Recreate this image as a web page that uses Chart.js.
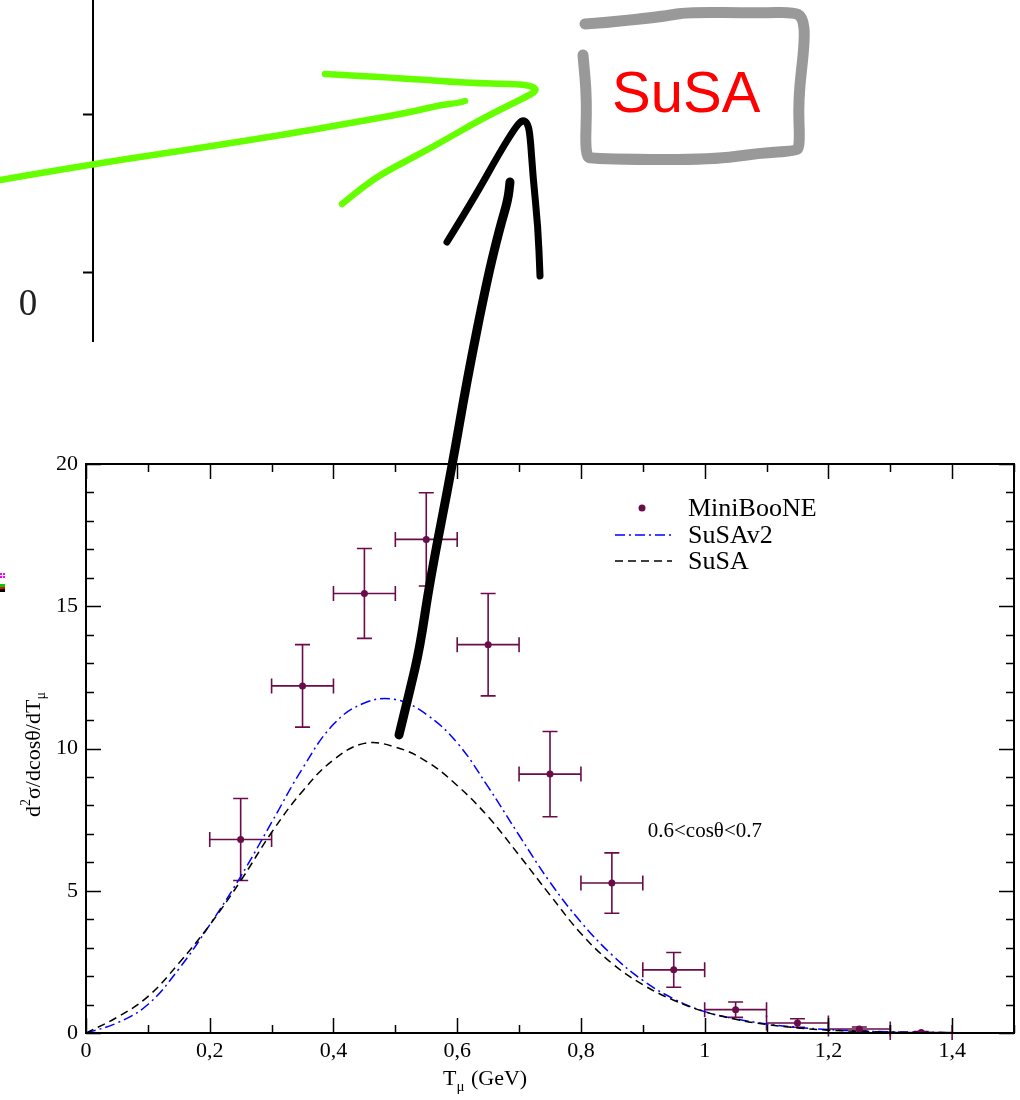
<!DOCTYPE html>
<html lang="en">
<head>
<meta charset="UTF-8">
<title>MiniBooNE vs SuSA, 0.6&lt;cosθ&lt;0.7</title>
<script src="https://cdn.jsdelivr.net/npm/chart.js"></script>
<style>
  html, body { margin: 0; padding: 0; background: #fff; }
  #wrap { position: relative; width: 1020px; height: 1100px; }
</style>
</head>
<body>
<div id="wrap"><canvas id="xsChart"></canvas></div>
<script>
// MiniBooNE points (bin centre in GeV, value, vertical error, half bin width)
const binCentres   = [0.25, 0.35, 0.45, 0.55, 0.65, 0.75, 0.85, 0.95, 1.05, 1.15, 1.25, 1.35];
const minibooneVal = [6.8, 12.2, 15.45, 17.35, 13.65, 9.1, 5.27, 2.22, 0.82, 0.35, 0.14, 0.02];
const minibooneErr = [1.44, 1.45, 1.58, 1.64, 1.8, 1.5, 1.06, 0.61, 0.27, 0.15, 0.07, 0.03];
const binHalfWidth = [0.05, 0.05, 0.05, 0.05, 0.05, 0.05, 0.05, 0.05, 0.05, 0.05, 0.05, 0.05];

// theory curves
const curveT = [0, 0.05, 0.1, 0.15, 0.2, 0.25, 0.3, 0.35, 0.4, 0.45, 0.5, 0.55, 0.6, 0.65, 0.7, 0.75,
                0.8, 0.85, 0.9, 0.95, 1.0, 1.05, 1.1, 1.15, 1.2, 1.25, 1.3, 1.35, 1.4, 1.45, 1.5];
const susaV2 = [0, 0.35, 1.0, 2.25, 3.8, 5.5, 7.4, 9.3, 10.85, 11.6, 11.72, 11.2, 10.2, 8.65, 6.95, 5.3,
                3.9, 2.75, 1.85, 1.2, 0.75, 0.5, 0.32, 0.2, 0.12, 0.07, 0.04, 0.02, 0.01, 0.005, 0];
const susa   = [0, 0.55, 1.28, 2.45, 3.8, 5.35, 7.05, 8.5, 9.6, 10.18, 10.05, 9.55, 8.7, 7.6, 6.25, 4.85,
                3.5, 2.45, 1.7, 1.15, 0.75, 0.48, 0.3, 0.18, 0.1, 0.06, 0.03, 0.02, 0.01, 0.005, 0];

const xRange = [0, 1.5];
const yRange = [0, 20];
const xMajor = 0.2, xMinor = 0.1;
const yMajor = 5, yMinor = 1;
const cutLabel = '0.6<cosθ<0.7';

const SERIF = "'Liberation Serif', 'DejaVu Serif', serif";
const DATA_COLOR = '#6a0c4a';

function pts(xs, ys) { return xs.map((x, i) => ({ x: x, y: ys[i] })); }

// hand-drawn strokes on top of the figure (pixel coords)
function handStroke(ctx, p, color, w) {
  ctx.save();
  ctx.strokeStyle = color; ctx.lineWidth = w;
  ctx.lineCap = 'round'; ctx.lineJoin = 'round';
  ctx.beginPath();
  ctx.moveTo(p[0][0], p[0][1]);
  for (let i = 1; i < p.length - 1; i++) {
    const mx = (p[i][0] + p[i + 1][0]) / 2, my = (p[i][1] + p[i + 1][1]) / 2;
    ctx.quadraticCurveTo(p[i][0], p[i][1], mx, my);
  }
  ctx.lineTo(p[p.length - 1][0], p[p.length - 1][1]);
  ctx.stroke();
  ctx.restore();
}

const errorBars = {
  id: 'errorBars',
  beforeDatasetsDraw(chart) {
    const ctx = chart.ctx, xs = chart.scales.x, ys = chart.scales.y;
    ctx.save();
    ctx.strokeStyle = DATA_COLOR; ctx.lineWidth = 1.6;
    binCentres.forEach((t, i) => {
      const cx = xs.getPixelForValue(t), cy = ys.getPixelForValue(minibooneVal[i]);
      const x0 = xs.getPixelForValue(t - binHalfWidth[i]), x1 = xs.getPixelForValue(t + binHalfWidth[i]);
      const y0 = ys.getPixelForValue(minibooneVal[i] - minibooneErr[i]);
      const y1 = ys.getPixelForValue(minibooneVal[i] + minibooneErr[i]);
      const c = 7.5;
      ctx.beginPath();
      ctx.moveTo(x0, cy); ctx.lineTo(x1, cy);
      ctx.moveTo(x0, cy - c); ctx.lineTo(x0, cy + c);
      ctx.moveTo(x1, cy - c); ctx.lineTo(x1, cy + c);
      ctx.moveTo(cx, y0); ctx.lineTo(cx, y1);
      ctx.moveTo(cx - c, y0); ctx.lineTo(cx + c, y0);
      ctx.moveTo(cx - c, y1); ctx.lineTo(cx + c, y1);
      ctx.stroke();
    });
    ctx.restore();
  }
};

const graceFrame = {
  id: 'graceFrame',
  afterDraw(chart) {
    const ctx = chart.ctx, a = chart.chartArea, xs = chart.scales.x, ys = chart.scales.y;
    ctx.save();
    // frame
    ctx.strokeStyle = '#000'; ctx.lineWidth = 2;
    ctx.strokeRect(a.left, a.top, a.right - a.left, a.bottom - a.top);
    // inward ticks on all four sides
    ctx.lineWidth = 1.5;
    ctx.beginPath();
    const nx = Math.round((xRange[1] - xRange[0]) / xMinor);
    for (let i = 0; i <= nx; i++) {
      const v = xRange[0] + i * xMinor;
      const major = Math.abs(v / xMajor - Math.round(v / xMajor)) < 1e-6;
      const len = major ? 15 : 8, px = Math.round(xs.getPixelForValue(v)) + 0.5;
      ctx.moveTo(px, a.bottom); ctx.lineTo(px, a.bottom - len);
      ctx.moveTo(px, a.top); ctx.lineTo(px, a.top + len);
    }
    const ny = Math.round((yRange[1] - yRange[0]) / yMinor);
    for (let i = 0; i <= ny; i++) {
      const v = yRange[0] + i * yMinor;
      const len = (v % yMajor === 0) ? 15 : 8, py = Math.round(ys.getPixelForValue(v)) + 0.5;
      ctx.moveTo(a.left, py); ctx.lineTo(a.left + len, py);
      ctx.moveTo(a.right, py); ctx.lineTo(a.right - len, py);
    }
    ctx.stroke();

    // legend
    ctx.fillStyle = '#000';
    ctx.font = '26px ' + SERIF;
    ctx.textBaseline = 'middle'; ctx.textAlign = 'left';
    const ds = chart.data.datasets;
    const rows = [508, 535, 561];
    ctx.fillStyle = ds[0].backgroundColor;
    ctx.beginPath(); ctx.arc(642, rows[0], 3.5, 0, Math.PI * 2); ctx.fill();
    [1, 2].forEach((k, j) => {
      ctx.strokeStyle = ds[k].borderColor; ctx.lineWidth = ds[k].borderWidth;
      ctx.setLineDash(ds[k].borderDash);
      ctx.beginPath(); ctx.moveTo(615, rows[j + 1]); ctx.lineTo(672, rows[j + 1]); ctx.stroke();
    });
    ctx.setLineDash([]);
    ctx.fillStyle = '#000';
    ds.forEach((d, k) => ctx.fillText(d.label, 688, rows[k] + 1));

    // cut label
    ctx.font = '21px ' + SERIF;
    ctx.textBaseline = 'alphabetic';
    ctx.fillText(cutLabel, xs.getPixelForValue(0.908), ys.getPixelForValue(6.9));

    // x title T_mu (GeV)
    ctx.font = '22px ' + SERIF;
    let x = 443;
    ctx.fillText('T', x, 1085); x += ctx.measureText('T').width;
    ctx.font = '15px ' + SERIF;
    ctx.fillText('μ', x, 1091); x += ctx.measureText('μ').width + 1;
    ctx.font = '22px ' + SERIF;
    ctx.fillText(' (GeV)', x, 1085);

    // y title d^2 sigma / dcos theta / dT_mu
    ctx.translate(40, 817); ctx.rotate(-Math.PI / 2);
    x = 0;
    ctx.fillText('d', x, 0); x += ctx.measureText('d').width;
    ctx.font = '14px ' + SERIF;
    ctx.fillText('2', x, -10); x += ctx.measureText('2').width;
    ctx.font = '22px ' + SERIF;
    ctx.fillText('σ/dcosθ/dT', x, 0); x += ctx.measureText('σ/dcosθ/dT').width;
    ctx.font = '14px ' + SERIF;
    ctx.fillText('μ', x, 5);
    ctx.restore();

    // upper (cut-off) panel: left axis with ticks and its "0" label
    ctx.save();
    ctx.strokeStyle = '#000'; ctx.lineWidth = 2;
    ctx.beginPath();
    ctx.moveTo(93, 0); ctx.lineTo(93, 342);
    ctx.moveTo(83, 114.5); ctx.lineTo(93, 114.5);
    ctx.moveTo(83, 272.5); ctx.lineTo(93, 272.5);
    ctx.stroke();
    ctx.fillStyle = '#222';
    ctx.font = '37px ' + SERIF;
    ctx.textAlign = 'center'; ctx.textBaseline = 'alphabetic';
    ctx.fillText('0', 28, 315);
    // cut-off legend remnants at the left edge
    ctx.fillStyle = '#ff00ff';
    ctx.fillRect(0, 573, 2, 2); ctx.fillRect(3, 573, 2, 2); ctx.fillRect(0, 576, 2, 2); ctx.fillRect(3, 576, 2, 2);
    ctx.fillStyle = '#00cc00'; ctx.fillRect(0, 584, 5, 3);
    ctx.fillStyle = '#ff0000'; ctx.fillRect(0, 587, 5, 2);
    ctx.fillStyle = '#000'; ctx.fillRect(0, 589, 5, 3);
    ctx.restore();

    // annotations
    handStroke(ctx, [[0, 180], [93, 164], [200, 148], [300, 132], [350, 123], [407, 113], [440, 105], [458, 103], [465, 101]], '#66ff00', 6.5);
    handStroke(ctx, [[325, 74], [400, 78], [467, 83], [517, 84], [532, 86], [537, 90], [530, 95], [483, 118], [433, 147], [383, 173], [363, 187], [342, 204]], '#66ff00', 6.5);
    handStroke(ctx, [[399, 735], [410, 690], [420, 647], [430, 580], [452, 467], [467, 380], [487, 280], [500, 227], [508, 200], [510, 182]], '#000', 9);
    handStroke(ctx, [[447, 242], [473, 200], [500, 152], [515, 128], [522, 120], [527, 122], [530, 133], [533, 177], [538, 227], [540, 276]], '#000', 7);
    handStroke(ctx, [[585, 24], [603, 23], [667, 16], [687, 12], [760, 13], [793, 12], [803, 17], [805, 40], [798, 100], [800, 147], [795, 151], [760, 153], [710, 160], [593, 159], [585, 156], [587, 100], [583, 55]], '#999999', 11);
    ctx.save();
    ctx.fillStyle = '#ff0000';
    ctx.font = "58px 'Liberation Sans', Arial, sans-serif";
    ctx.textAlign = 'left'; ctx.textBaseline = 'alphabetic';
    ctx.fillText('SuSA', 612, 112);
    ctx.restore();
  }
};

new Chart(document.getElementById('xsChart'), {
  type: 'scatter',
  data: {
    datasets: [
      {
        label: 'MiniBooNE',
        data: pts(binCentres, minibooneVal),
        backgroundColor: DATA_COLOR, borderColor: DATA_COLOR,
        pointRadius: 3.5, pointBorderWidth: 0, showLine: false, order: 0
      },
      {
        label: 'SuSAv2',
        data: pts(curveT, susaV2),
        showLine: true, borderColor: '#0000ff', borderWidth: 1.5,
        borderDash: [10, 4, 2, 4], pointRadius: 0,
        tension: 0.4, order: 2
      },
      {
        label: 'SuSA',
        data: pts(curveT, susa),
        showLine: true, borderColor: '#000000', borderWidth: 1.5,
        borderDash: [8, 5], pointRadius: 0,
        tension: 0.4, order: 1
      }
    ]
  },
  options: {
    responsive: true,
    maintainAspectRatio: false,
    animation: false,
    layout: { padding: { top: 464, right: 6, left: 0, bottom: 0 } },
    plugins: { legend: { display: false }, tooltip: { enabled: false } },
    scales: {
      x: {
        type: 'linear', min: xRange[0], max: xRange[1],
        grid: { display: false, drawTicks: false },
        border: { display: false },
        ticks: {
          stepSize: xMajor, includeBounds: false, padding: 5, color: '#000',
          font: { family: SERIF, size: 22 }, maxRotation: 0,
          callback: v => String(Math.round(v * 10) / 10).replace('.', ',')
        },
        afterFit: s => { s.height = 67; }
      },
      y: {
        min: yRange[0], max: yRange[1],
        grid: { display: false, drawTicks: false },
        border: { display: false },
        ticks: {
          stepSize: yMajor, padding: 8, color: '#000',
          font: { family: SERIF, size: 22 }
        },
        afterFit: s => { s.width = 86; }
      }
    }
  },
  plugins: [errorBars, graceFrame]
});
</script>
</body>
</html>
